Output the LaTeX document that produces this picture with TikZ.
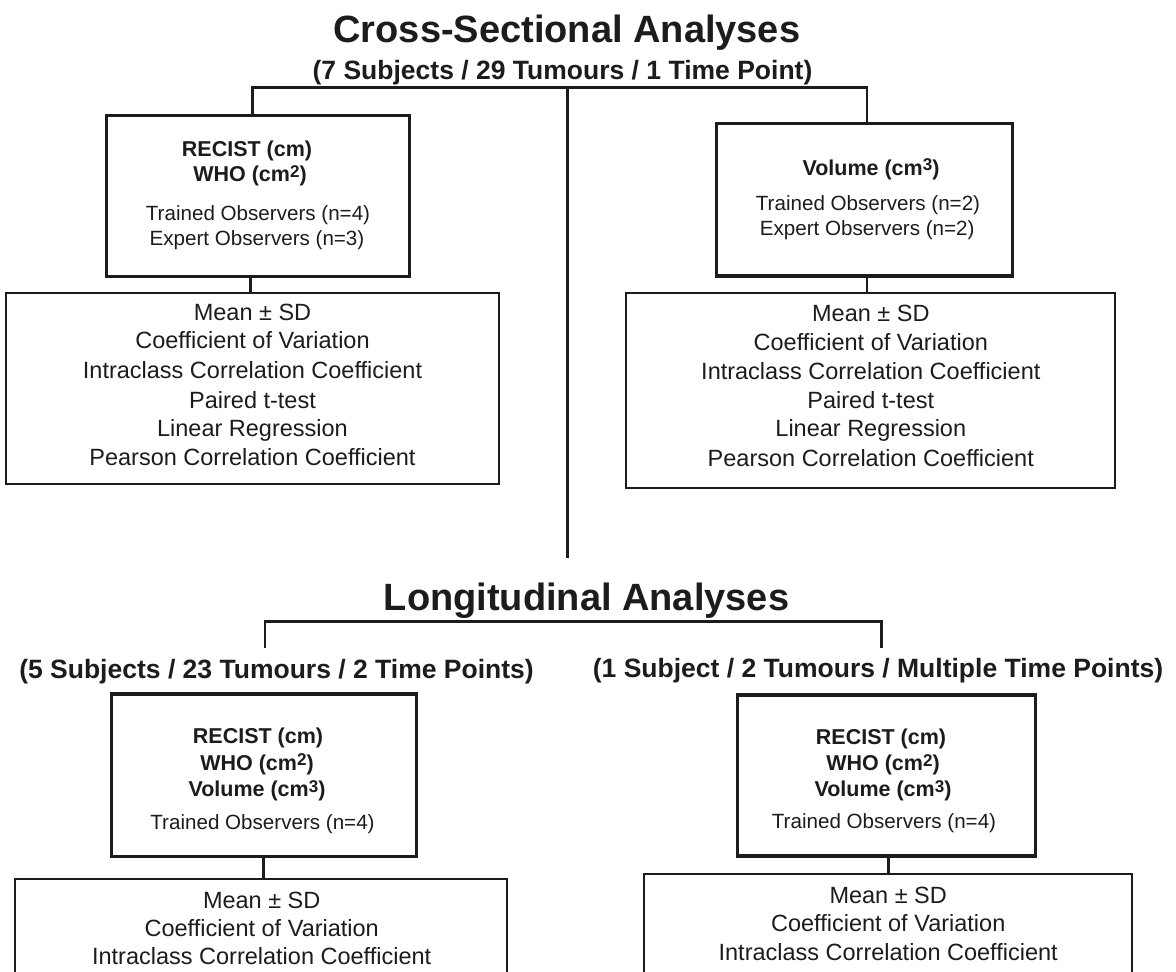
\documentclass[tikz,border=0pt]{standalone}
\usepackage{fontspec}
\setmainfont{Liberation Sans}
\definecolor{ink}{HTML}{1C1C1C}
\newcommand\supr[1]{\raisebox{4.5pt}{\fontsize{17}{17}\selectfont #1}}
\begin{document}
\begin{tikzpicture}[x=1pt,y=-1pt,
  every node/.style={inner sep=0pt,outer sep=0pt,text=ink},
  heavybox/.style={draw=ink,line width=3.3pt,rectangle,fill=none},
  statbox/.style={draw=ink,line width=2pt,rectangle,fill=none},
  conn/.style={draw=ink,line width=2.7pt},
  ttl/.style={anchor=base,font=\fontsize{38}{40}\selectfont\bfseries},
  sub/.style={anchor=base,font=\fontsize{26.5}{28}\selectfont\bfseries},
  hd/.style={anchor=base,font=\fontsize{21.5}{24}\selectfont\bfseries},
  obs/.style={anchor=base,font=\fontsize{20.6}{24}\selectfont},
  st/.style={anchor=base,font=\fontsize{23.5}{28}\selectfont}]
\useasboundingbox (0,0) rectangle (1176,972);
\fill[white] (0,0) rectangle (1176,972);
\begin{scope}
\clip (0,0) rectangle (1176,972);
% ---------- boxes ----------
\node[heavybox,minimum width=302.8pt,minimum height=161.2pt] (A1) at (257.8,196.1) {};
\node[statbox,minimum width=493.7pt,minimum height=191.3pt] (B1) at (252.55,388.35) {};
\node[heavybox,minimum width=295.7pt,minimum height=152.7pt] (A2) at (864.65,199.65) {};
\node[statbox,minimum width=489.6pt,minimum height=195pt] (B2) at (870.4,390.8) {};
\node[heavybox,minimum width=305pt,minimum height=162.7pt] (C1) at (264.2,775.35) {};
\node[statbox,minimum width=491.7pt,minimum height=130.7pt] (D1) at (260.85,944.65) {};
\node[heavybox,minimum width=298pt,minimum height=161pt] (C2) at (886.7,775.5) {};
\node[statbox,minimum width=487.4pt,minimum height=135.7pt] (D2) at (888,942.15) {};
% ---------- connector coordinates ----------
\coordinate (tl) at (252.7,87.3);
\coordinate (tc) at (567.5,87.3);
\coordinate (tr) at (867,87.3);
\coordinate (cb) at (567.5,558.3);
\coordinate (xA1) at (250.7,0);
\coordinate (xA2) at (867,0);
\coordinate (ll) at (265,621.7);
\coordinate (lr) at (881.7,621.7);
\coordinate (llb) at (265,647.5);
\coordinate (lrb) at (881.7,647.5);
\coordinate (xC1) at (263.3,0);
\coordinate (xC2) at (888.3,0);
% ---------- connectors ----------
\draw[conn] (tl |- A1.north) -- (tl) -- (tr) -- (tr |- A2.north);
\draw[conn] (tc) -- (cb);
\draw[conn] (xA1 |- A1.south) -- (xA1 |- B1.north);
\draw[conn] (xA2 |- A2.south) -- (xA2 |- B2.north);
\draw[conn] (llb) -- (ll) -- (lr) -- (lrb);
\draw[conn] (xC1 |- C1.south) -- (xC1 |- D1.north);
\draw[conn] (xC2 |- C2.south) -- (xC2 |- D2.north);
% ---------- titles ----------
\node[ttl] (T1) at (566.9,42) {Cross-Sectional Analyses};
\node[sub] (S1) at (562.5,79) {(7 Subjects / 29 Tumours / 1 Time Point)};
\node[ttl] (T2) at (586.5,610.5) {Longitudinal Analyses};
\node[sub] (S2L) at (276.5,678) {(5 Subjects / 23 Tumours / 2 Time Points)};
\node[sub] (S2R) at (878,677) {(1 Subject / 2 Tumours / Multiple Time Points)};
% ---------- A1 ----------
\node[hd] (A1a) at (247,156.7) {RECIST (cm)};
\node[hd] (A1b) at (250,181.5) {WHO (cm\supr{2})};
\node[obs] (A1c) at (258,220) {Trained Observers (n=4)};
\node[obs] (A1d) at (257,245) {Expert Observers (n=3)};
% ---------- A2 ----------
\node[hd] (A2a) at (871,175) {Volume (cm\supr{3})};
\node[obs] (A2b) at (868,210) {Trained Observers (n=2)};
\node[obs] (A2c) at (867.2,235) {Expert Observers (n=2)};
% ---------- B1 ----------
\node[st] (B1a) at (252.5,320) {Mean ± SD};
\node[st] (B1b) at (252.5,348.3) {Coefficient of Variation};
\node[st] (B1c) at (252.5,378.3) {Intraclass Correlation Coefficient};
\node[st] (B1d) at (252.5,408.3) {Paired t-test};
\node[st] (B1e) at (252.5,436.7) {Linear Regression};
\node[st] (B1f) at (252.5,465) {Pearson Correlation Coefficient};
% ---------- B2 ----------
\node[st] (B2a) at (870.8,321.7) {Mean ± SD};
\node[st] (B2b) at (870.8,350) {Coefficient of Variation};
\node[st] (B2c) at (870.8,379) {Intraclass Correlation Coefficient};
\node[st] (B2d) at (870.8,408.3) {Paired t-test};
\node[st] (B2e) at (870.8,436.7) {Linear Regression};
\node[st] (B2f) at (870.8,466.7) {Pearson Correlation Coefficient};
% ---------- C1 ----------
\node[hd] (C1a) at (258,743.3) {RECIST (cm)};
\node[hd] (C1b) at (257,770) {WHO (cm\supr{2})};
\node[hd] (C1c) at (257,796.7) {Volume (cm\supr{3})};
\node[obs] (C1d) at (262.5,829.3) {Trained Observers (n=4)};
% ---------- D1 ----------
\node[st] (D1a) at (261.7,908.3) {Mean ± SD};
\node[st] (D1b) at (261.7,936.7) {Coefficient of Variation};
\node[st] (D1c) at (261.7,964) {Intraclass Correlation Coefficient};
% ---------- C2 ----------
\node[hd] (C2a) at (881,744.3) {RECIST (cm)};
\node[hd] (C2b) at (883,770.5) {WHO (cm\supr{2})};
\node[hd] (C2c) at (883,796.7) {Volume (cm\supr{3})};
\node[obs] (C2d) at (884,828.3) {Trained Observers (n=4)};
% ---------- D2 ----------
\node[st] (D2a) at (888.2,903.3) {Mean ± SD};
\node[st] (D2b) at (888.2,931.7) {Coefficient of Variation};
\node[st] (D2c) at (888.2,960) {Intraclass Correlation Coefficient};
\end{scope}
\end{tikzpicture}
\end{document}
